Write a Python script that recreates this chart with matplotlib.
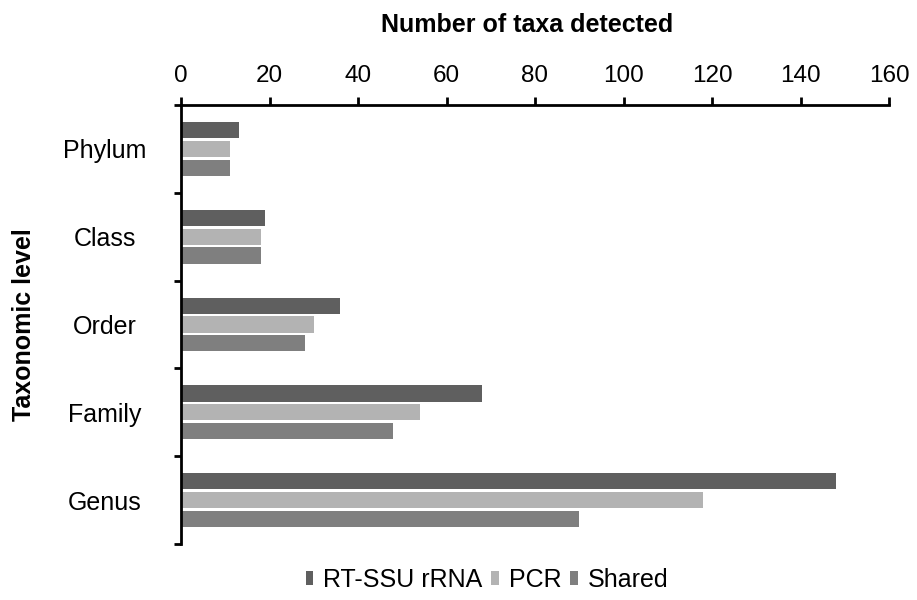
import matplotlib
matplotlib.use("Agg")
import matplotlib.pyplot as plt
import numpy as np
from matplotlib.patches import Patch

plt.rcParams['font.family'] = ['Liberation Sans', 'DejaVu Sans']

categories = ["Phylum", "Class", "Order", "Family", "Genus"]
series_names = ["RT-SSU rRNA", "PCR", "Shared"]
rt_ssu = [13, 19, 36, 68, 148]
pcr = [11, 18, 30, 54, 118]
shared = [11, 18, 28, 48, 90]
x_ticks = [0, 20, 40, 60, 80, 100, 120, 140, 160]

colors = ["#5f5f5f", "#b3b3b3", "#7f7f7f"]

fig = plt.figure(figsize=(9.17, 6.0), dpi=100)
ax = fig.add_axes([181/917, 1-544/600, (889-181)/917, (544-105)/600])

y = np.arange(len(categories))
pitch = 0.215
h = 0.185
for i, (vals, c) in enumerate(zip([rt_ssu, pcr, shared], colors)):
    ax.barh(y + (i-1)*pitch, vals, height=h, color=c, edgecolor='none')

ax.set_xlim(0, 160)
ax.set_ylim(len(categories)-0.5, -0.5)
ax.xaxis.tick_top()
ax.set_xticks(x_ticks)
ax.tick_params(axis='x', direction='out', length=6, width=2, labelsize=17.5, pad=7)
ax.set_xlabel("Number of taxa detected", fontsize=18, fontweight='bold')
ax.xaxis.set_label_position('top')
ax.xaxis.label.set_va('baseline')
ax.xaxis.set_label_coords(0.489, 1 + (105-32)/439)

ax.set_yticks(np.arange(-0.5, len(categories), 1.0))
ax.set_yticklabels([])
ax.set_yticks(y, minor=True)
ax.set_yticklabels(categories, minor=True, ha='center')
ax.tick_params(axis='y', which='major', direction='out', length=5, width=2)
ax.tick_params(axis='y', which='minor', length=0, labelsize=18, pad=55)
ax.set_ylabel("Taxonomic level", fontsize=18, fontweight='bold')
ax.yaxis.label.set_va('center')
ax.yaxis.set_label_coords((24-181)/708, 0.5)

for s in ['right', 'bottom']:
    ax.spines[s].set_visible(False)
for s in ['left', 'top']:
    ax.spines[s].set_linewidth(2)

handles = [Patch(facecolor=c, edgecolor='none') for c in colors]
fig.legend(handles, series_names, loc='center', bbox_to_anchor=(487/917, 1-580/600),
           ncol=3, frameon=False, fontsize=18, handlelength=0.3, handleheight=0.45,
           handletextpad=0.4, columnspacing=0.35)

fig.savefig("out.png", dpi=100)
